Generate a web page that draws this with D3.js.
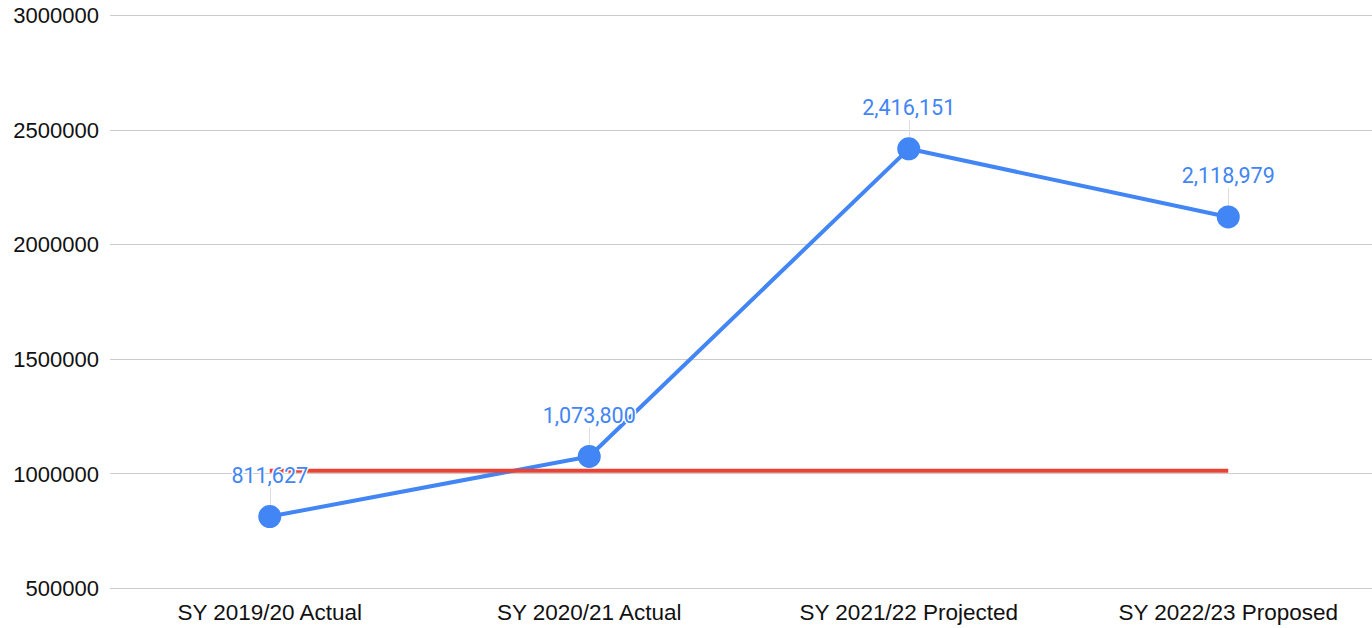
<!DOCTYPE html>
<html>
<head>
<meta charset="utf-8">
<script src="https://cdn.jsdelivr.net/npm/d3@7"></script>
<style>
  html, body { margin: 0; padding: 0; background: #fff; }
  svg { display: block; }
</style>
</head>
<body>
<svg id="chart" width="1372" height="628"></svg>
<script>
const categories = ["SY 2019/20 Actual", "SY 2020/21 Actual", "SY 2021/22 Projected", "SY 2022/23 Proposed"];
const spending = [811627, 1073800, 2416151, 2118979];
const threshold = [1012000, 1012000, 1012000, 1012000];
const yTicks = [500000, 1000000, 1500000, 2000000, 2500000, 3000000];

const svg = d3.select("#chart");
const left = 110, right = 1372;

const x = d3.scaleBand().domain(categories).range([110, 1388]).padding(0);
const cx = c => x(c) + x.bandwidth() / 2;
const y = d3.scaleLinear().domain([500000, 3000000]).range([588, 15]);

// Gridlines
const grid = svg.append("g");
grid.selectAll("line").data(yTicks).join("line")
  .attr("x1", left).attr("x2", right)
  .attr("y1", d => Math.round(y(d)) + 0.5).attr("y2", d => Math.round(y(d)) + 0.5)
  .attr("stroke", "#cccccc").attr("stroke-width", 1);

// Y axis labels
const yAxis = d3.axisLeft(y).tickValues(yTicks).tickFormat(d3.format("d")).tickSize(0).tickPadding(0);
const yg = svg.append("g").attr("transform", "translate(99,0)").call(yAxis);
yg.select(".domain").remove();
yg.selectAll("text")
  .attr("font-family", "'Liberation Sans', Arial, sans-serif")
  .attr("font-size", 22).attr("fill", "#111").attr("dy", "0.35em").attr("x", 0);

// X axis labels
const xAxis = d3.axisBottom(x).tickSize(0).tickPadding(0);
const xg = svg.append("g").attr("transform", "translate(0,604)").call(xAxis);
xg.select(".domain").remove();
xg.selectAll("text")
  .attr("font-family", "'Liberation Sans', Arial, sans-serif")
  .attr("font-size", 22.5).attr("fill", "#111").attr("dy", "0.71em").attr("y", 0);

// Blue line
const pts = categories.map((c, i) => ({c, v: spending[i]}));
const line = d3.line().x(d => cx(d.c)).y(d => y(d.v));
svg.append("path").datum(pts)
  .attr("d", line).attr("fill", "none")
  .attr("stroke", "#4285F4").attr("stroke-width", 4).attr("stroke-linejoin", "round");

// Red line
const rpts = categories.map((c, i) => ({c, v: threshold[i]}));
svg.append("path").datum(rpts)
  .attr("d", line).attr("fill", "none")
  .attr("stroke", "#EA4335").attr("stroke-width", 4);

// Leader lines
svg.append("g").selectAll("line").data(pts).join("line")
  .attr("x1", d => Math.round(cx(d.c)) + 0.5).attr("x2", d => Math.round(cx(d.c)) + 0.5)
  .attr("y1", d => y(d.v) - 29).attr("y2", d => y(d.v) - 11)
  .attr("stroke", "#dddddd").attr("stroke-width", 1);

// Points
svg.append("g").selectAll("circle").data(pts).join("circle")
  .attr("cx", d => cx(d.c)).attr("cy", d => y(d.v)).attr("r", 11.5)
  .attr("fill", "#4285F4");

// Data labels
const fmt = d3.format(",");
svg.append("g").selectAll("text").data(pts).join("text")
  .attr("x", d => cx(d.c)).attr("y", d => y(d.v) - 33.5)
  .attr("text-anchor", "middle")
  .attr("font-family", "Roboto, 'Noto Sans', sans-serif")
  .attr("font-size", 21.5)
  .attr("fill", "#4285F4")
  .attr("stroke", "#ffffff").attr("stroke-width", 3).attr("paint-order", "stroke")
  .attr("stroke-linejoin", "round")
  .text(d => fmt(d.v));
</script>
</body>
</html>
